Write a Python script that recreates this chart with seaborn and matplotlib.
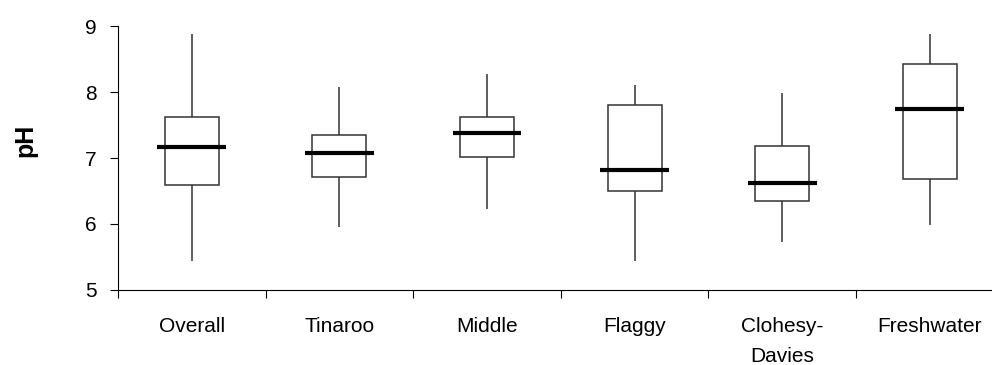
import numpy as np
import pandas as pd
import matplotlib
matplotlib.use("Agg")
import matplotlib.pyplot as plt
from matplotlib.ticker import FixedLocator
import seaborn as sns

# Five-number summaries of pH per site
sites = ["Overall", "Tinaroo", "Middle", "Flaggy", "Clohesy-\nDavies", "Freshwater"]
ph_min = [5.43, 5.95, 6.23, 5.43, 5.73, 5.98]
ph_q1 = [6.59, 6.71, 7.02, 6.50, 6.35, 6.68]
ph_median = [7.17, 7.07, 7.38, 6.82, 6.62, 7.74]
ph_q3 = [7.63, 7.35, 7.63, 7.81, 7.18, 8.42]
ph_max = [8.88, 8.08, 8.27, 8.11, 7.99, 8.88]
y_ticks = [5, 6, 7, 8, 9]

# With five values per site and whiskers at the 0/100 percentiles,
# the box plot reproduces each summary exactly.
rows = []
for s, lo, a, m, b, hi in zip(sites, ph_min, ph_q1, ph_median, ph_q3, ph_max):
    for v in (lo, a, m, b, hi):
        rows.append({"site": s, "pH": v})
df = pd.DataFrame(rows)

sns.set_theme(style="ticks")
plt.rcParams["font.family"] = ["Liberation Sans", "DejaVu Sans"]
plt.rcParams["text.color"] = "black"
plt.rcParams["xtick.color"] = "black"
plt.rcParams["ytick.color"] = "black"
plt.rcParams["axes.labelcolor"] = "black"

fig = plt.figure(figsize=(9.92, 3.65), dpi=100)
ax = fig.add_axes([118 / 992, 75.3 / 365, 6 * 147.6 / 992, 263.4 / 365])

MEDIAN_LW = 3.0
sns.boxplot(
    data=df, x="site", y="pH", order=sites, whis=(0, 100), width=0.366,
    showcaps=False, color="white", linecolor="#333333", linewidth=1.1,
    fliersize=0, medianprops=dict(color="black", linewidth=MEDIAN_LW),
    ax=ax,
)

# Median bars stick out a little on both sides of each box
for line in ax.lines:
    if abs(line.get_linewidth() - MEDIAN_LW) < 1e-6:
        x = np.asarray(line.get_xdata(), dtype=float)
        c = x.mean()
        line.set_xdata([c - 0.467 / 2, c + 0.467 / 2])
        line.set_solid_capstyle("butt")

ax.set_xlim(-0.5, len(sites) - 0.5)
ax.set_ylim(5, 9)
ax.set_yticks(y_ticks)
ax.set_xlabel("")
ax.set_ylabel("")

# Category boundaries carry the tick marks; labels sit between them
ax.xaxis.set_minor_locator(FixedLocator(np.arange(-0.5, len(sites), 1.0)))
ax.tick_params(axis="x", which="major", length=0, pad=20, labelsize=15,
               labelcolor="black")
ax.tick_params(axis="x", which="minor", length=5.8, width=0.8, color="black",
               direction="out")
ax.tick_params(axis="y", which="major", length=5.8, width=0.8, color="black",
               direction="out", pad=9.5, labelsize=15, labelcolor="black")
for lab in ax.get_xticklabels():
    lab.set_linespacing(1.72)
    lab.set_verticalalignment("top")

for side in ("left", "bottom"):
    ax.spines[side].set_linewidth(0.8)
    ax.spines[side].set_color("black")
sns.despine(ax=ax)

fig.text(25 / 992, 1 - 140 / 365, "pH", rotation=90, ha="center", va="center",
         fontsize=18, fontweight="bold", color="black")

fig.savefig("out.png", dpi=100)
